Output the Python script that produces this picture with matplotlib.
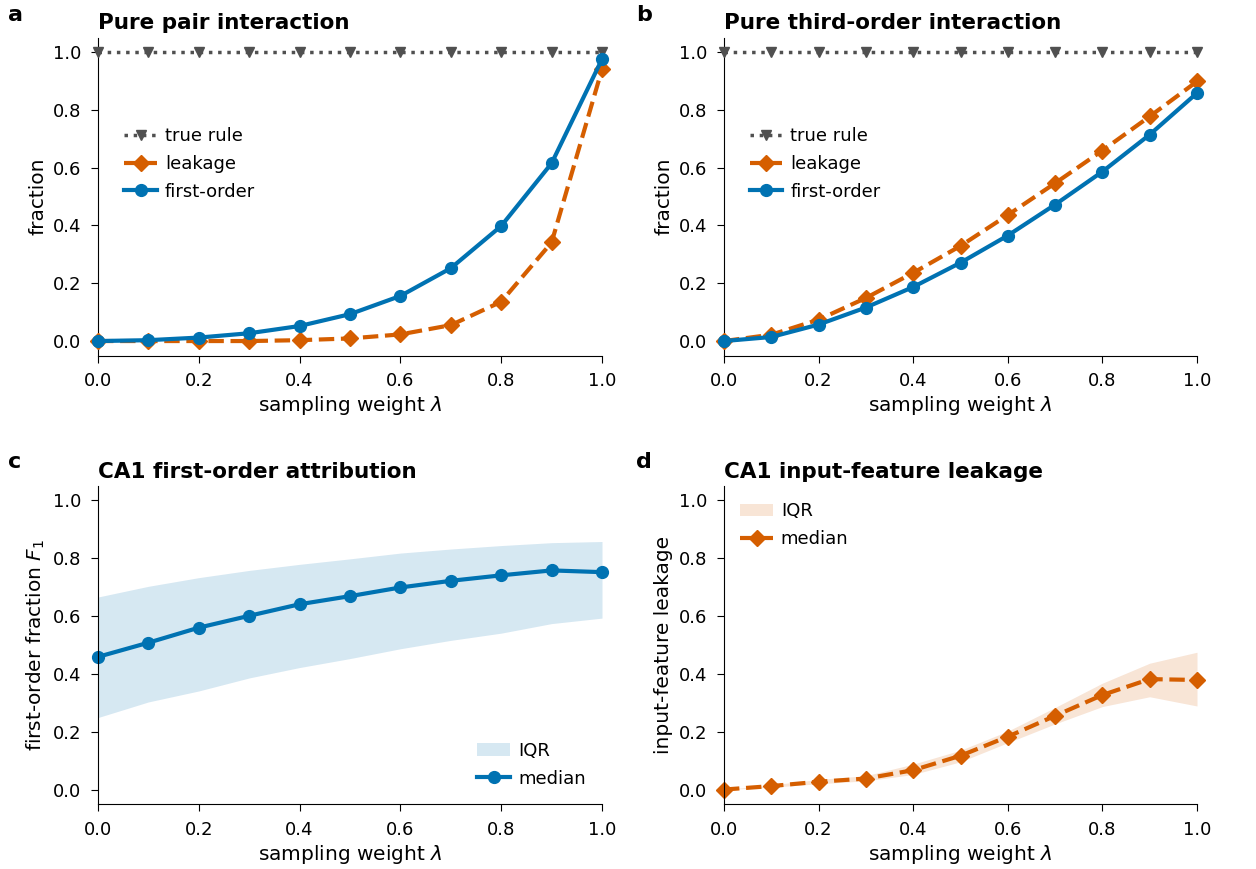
import numpy as np
import matplotlib
matplotlib.use('Agg')
import matplotlib.pyplot as plt

# sampling weight grid
lam = [0.0, 0.1, 0.2, 0.3, 0.4, 0.5, 0.6, 0.7, 0.8, 0.9, 1.0]

# a: pure pair interaction
pair_true = [1.0] * 11
pair_leak = [0.0, 0.0, 0.0, 0.0, 0.003, 0.009, 0.023, 0.055, 0.136, 0.341, 0.94]
pair_first = [0.0, 0.003, 0.012, 0.027, 0.052, 0.093, 0.156, 0.252, 0.398, 0.615, 0.975]

# b: pure third-order interaction
third_true = [1.0] * 11
third_leak = [0.0, 0.022, 0.074, 0.149, 0.236, 0.329, 0.436, 0.546, 0.659, 0.777, 0.898]
third_first = [0.0, 0.014, 0.057, 0.116, 0.187, 0.271, 0.365, 0.472, 0.586, 0.714, 0.858]

# c: CA1 first-order fraction (median + IQR)
ca1_f1_med = [0.459, 0.508, 0.560, 0.601, 0.641, 0.669, 0.699, 0.722, 0.741, 0.758, 0.752]
ca1_f1_q75 = [0.666, 0.703, 0.733, 0.758, 0.779, 0.798, 0.818, 0.832, 0.844, 0.854, 0.858]
ca1_f1_q25 = [0.249, 0.303, 0.341, 0.386, 0.422, 0.453, 0.487, 0.516, 0.541, 0.574, 0.593]

# d: CA1 input-feature leakage (median + IQR)
ca1_lk_med = [0.0, 0.012, 0.027, 0.038, 0.067, 0.117, 0.183, 0.255, 0.327, 0.382, 0.379]
ca1_lk_q75 = [0.0, 0.016, 0.035, 0.048, 0.088, 0.136, 0.202, 0.284, 0.368, 0.437, 0.475]
ca1_lk_q25 = [0.0, 0.008, 0.020, 0.030, 0.052, 0.096, 0.162, 0.227, 0.287, 0.321, 0.289]

BLUE = '#0072B2'
ORANGE = '#D55E00'
GRAY = '#505050'

plt.rcParams['font.family'] = 'DejaVu Sans'
plt.rcParams['font.size'] = 13

fig = plt.figure(figsize=(12.56, 8.69), dpi=100)

W, H = 1256.0, 869.0
def box(x0, x1, ytop, ybot):
    return [x0 / W, 1 - ybot / H, (x1 - x0) / W, (ybot - ytop) / H]

ax_a = fig.add_axes(box(98, 602, 37.5, 355.5))
ax_b = fig.add_axes(box(724, 1197, 37.5, 355.5))
ax_c = fig.add_axes(box(98, 602, 486, 804))
ax_d = fig.add_axes(box(724, 1197, 486, 804))

LEG = dict(frameon=False, fontsize=13, handlelength=1.8, handletextpad=0.45,
           labelspacing=0.55)

def style(ax, title, ylabel):
    ax.set_xlim(0, 1)
    ax.set_ylim(-0.05, 1.05)
    ax.set_xticks([0, 0.2, 0.4, 0.6, 0.8, 1.0])
    ax.set_yticks([0, 0.2, 0.4, 0.6, 0.8, 1.0])
    ax.spines['top'].set_visible(False)
    ax.spines['right'].set_visible(False)
    ax.tick_params(labelsize=13, length=5, pad=7)
    ax.set_xlabel('sampling weight $\\lambda$', fontsize=14.5, labelpad=3)
    ax.set_ylabel(ylabel, fontsize=14.5, labelpad=4)
    ax.set_title(title, fontsize=15.5, fontweight='bold', loc='left', x=0.0)

def interaction_panel(ax, true_v, leak_v, first_v, title):
    ax.plot(lam, true_v, ':', color=GRAY, lw=2.5, marker='v', ms=6.5,
            label='true rule', clip_on=False, zorder=3)
    ax.plot(lam, leak_v, '--', color=ORANGE, lw=3, marker='D', ms=8,
            label='leakage', clip_on=False, zorder=4)
    ax.plot(lam, first_v, '-', color=BLUE, lw=3, marker='o', ms=8.5,
            label='first-order', clip_on=False, zorder=5)
    style(ax, title, 'fraction')
    ax.legend(loc='upper left', bbox_to_anchor=(0.02, 0.77), **LEG)

interaction_panel(ax_a, pair_true, pair_leak, pair_first, 'Pure pair interaction')
interaction_panel(ax_b, third_true, third_leak, third_first, 'Pure third-order interaction')

# c
ax_c.fill_between(lam, ca1_f1_q25, ca1_f1_q75, color=BLUE, alpha=0.16, lw=0, label='IQR')
ax_c.plot(lam, ca1_f1_med, '-', color=BLUE, lw=3, marker='o', ms=8.5,
          label='median', clip_on=False)
style(ax_c, 'CA1 first-order attribution', 'first-order fraction $F_1$')
ax_c.legend(loc='lower right', **LEG)

# d
ax_d.fill_between(lam, ca1_lk_q25, ca1_lk_q75, color=ORANGE, alpha=0.16, lw=0, label='IQR')
ax_d.plot(lam, ca1_lk_med, '--', color=ORANGE, lw=3, marker='D', ms=8,
          label='median', clip_on=False)
style(ax_d, 'CA1 input-feature leakage', 'input-feature leakage')
ax_d.legend(loc='upper left', **LEG)

# panel letters
for letter, (px, py) in zip('abcd', [(8, 15), (636, 15), (8, 462), (636, 462)]):
    fig.text(px / W, 1 - py / H, letter, fontsize=16, fontweight='bold',
             ha='left', va='center')

fig.savefig('out.png', dpi=100)
